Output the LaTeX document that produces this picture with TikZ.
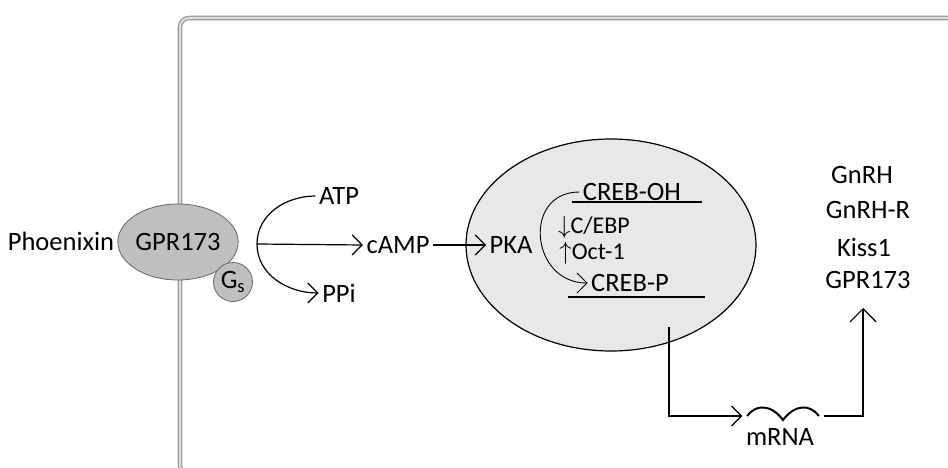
\documentclass[tikz,border=0pt]{standalone}
\usepackage{fontspec}
\setmainfont{Carlito}
\usepackage{tikz}
\usetikzlibrary{positioning,shapes.geometric,arrows.meta}

\newcommand{\arrsize}{\fontsize{29}{29}\selectfont}

\begin{document}
\begin{tikzpicture}[%
            x=1pt,
            y=-1pt,
            >={Straight Barb[length=10pt,width=20pt]},
            line width=1.2pt,
            font=\fontsize{26.5}{32}\selectfont,
            membrane/.style={%
            	draw=gray!80,
            	double=gray!25,
            	double distance=2pt,
            	line width=1.3pt,
            	rounded corners=9pt
            },
            receptor/.style={%
            	ellipse,
            	draw=gray!80!black,
            	fill=gray!50,
            	line width=0.8pt,
            	minimum width=101,
            	minimum height=76,
            	inner sep=0pt
            },
            gprotein/.style={%
            	circle,
            	draw=gray!80!black,
            	fill=gray!50,
            	line width=0.8pt,
            	minimum size=39,
            	inner sep=0pt
            },
            nucleus/.style={%
            	ellipse,
            	draw,
            	fill=gray!18,
            	minimum width=290,
            	minimum height=212
            },
            txt/.style={inner sep=3pt},
            small/.style={%
            	font=\fontsize{24}{28}\selectfont,
            	inner sep=1pt
            },
            wave/.style={minimum width=80, minimum height=14, inner sep=0pt}
            ]
            \useasboundingbox (0,0) rectangle (948,468);
            \begin{scope}
            \clip (0,0) rectangle (948,468);
            \draw[membrane] (180,18) rectangle (990,474);
            \end{scope}

            \node[nucleus] (8) at (611,245)          {};
            \node[txt] (1) at (61,241)               {Phoenixin};
            \node[receptor] (2) at (178,242)         {GPR173};
            \node[gprotein] (3) at (233,282)         {G\textsubscript{s}};
            \node[txt] (4) at (339,196)              {ATP};
            \node[txt] (5) at (398,245)              {cAMP};
            \node[txt] (6) at (339,293)              {PPi};
            \node[txt] (7) at (511,245)              {PKA};
            \node[txt] (9) at (632,192)              {CREB-OH};
            \node[small] (10) at (594,227)           {{\arrsize$\downarrow$}C/EBP};
            \node[small] (11) at (592,253)           {{\arrsize$\uparrow$}Oct-1};
            \node[txt] (12) at (630,283)             {CREB-P};
            \node[wave] (13) at (783,416)            {};
            \node[txt] (14) at (780,437)             {mRNA};
            \node[txt] (15) at (862,175)             {GnRH};
            \node[txt] (16) at (868,210)             {GnRH-R};
            \node[txt] (17) at (864,247)             {Kiss1};
            \node[txt] (18) at (868,280)             {GPR173};
            \coordinate (a) at (257,244);
            \coordinate (b) at (669,327);
            \coordinate (c) at (863,308);

            \draw (572,202) -- (702,202);
            \draw (568,297) -- (705,297);
            \draw[line width=2pt] (747,416) .. controls (756,404) and (771,404) .. (783,420)
                .. controls (795,404) and (810,404) .. (819,416);

            \draw (4.west) to[out=180,in=90] (a);
            \draw[->] (a) to[out=-90,in=180] (6.west);
            \draw[->] (a) -- (5.west);
            \draw[->] (5) -- (7);
            \draw[->,line width=0.9pt] (9.west) to[out=180,in=180,looseness=1.6] (12.west);
            \draw[->] (b) |- (13.west);
            \draw[->,>={Straight Barb[length=13pt,width=26pt]}] (13.east) -| (c);
            \end{tikzpicture}
\end{document}
